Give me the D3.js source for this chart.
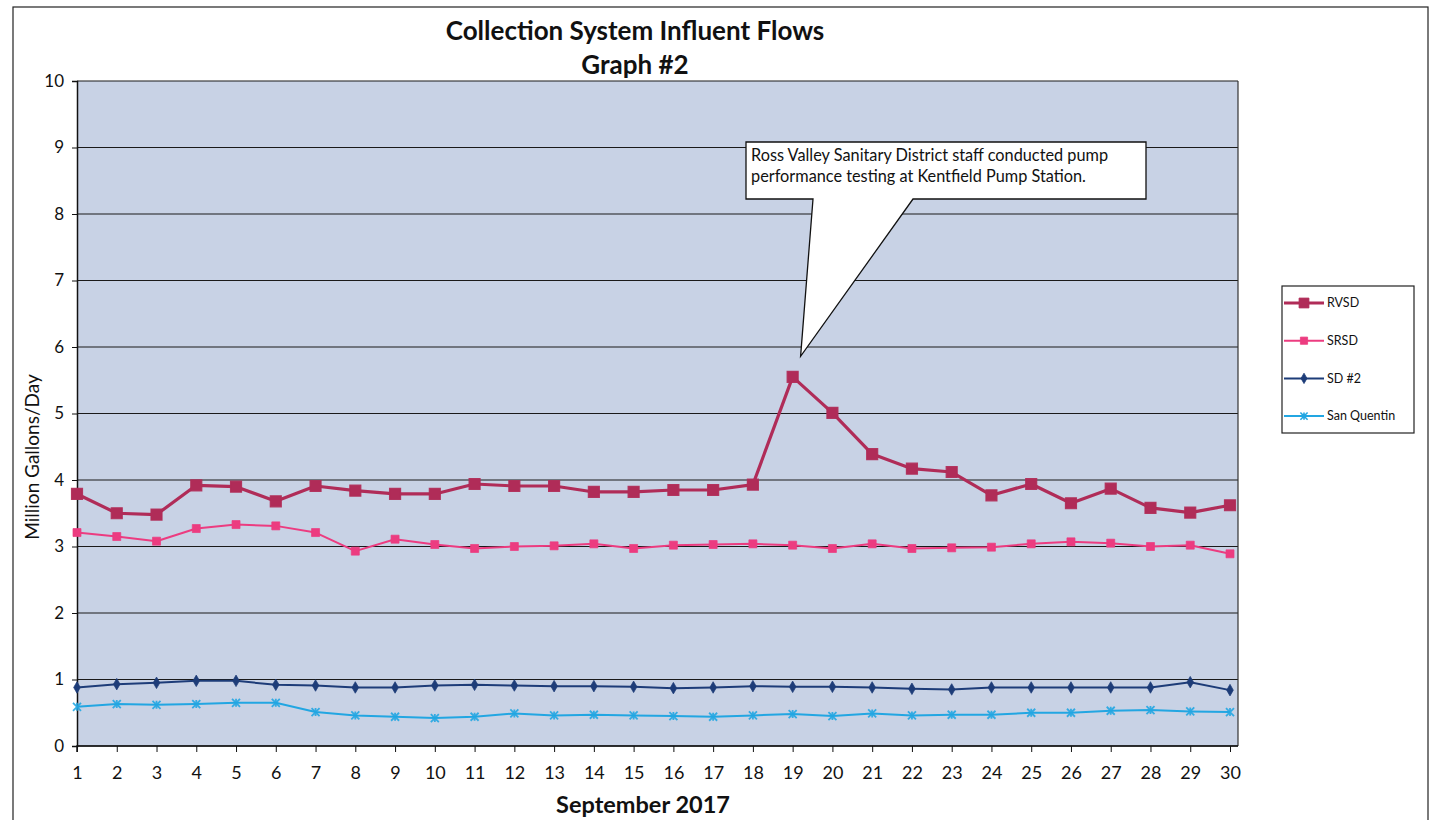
<!DOCTYPE html>
<html>
<head>
<meta charset="utf-8">
<script src="https://cdn.jsdelivr.net/npm/d3@7"></script>
<style>
  body { margin: 0; background: #fff; }
  svg text { font-family: Lato, "Open Sans", sans-serif; fill: #111; }
</style>
</head>
<body>
<div id="d3-container"></div>
<script>
/**
 * DATA
 * */
const days = [1, 2, 3, 4, 5, 6, 7, 8, 9, 10, 11, 12, 13, 14, 15,
  16, 17, 18, 19, 20, 21, 22, 23, 24, 25, 26, 27, 28, 29, 30];

const rvsd = [3.79, 3.50, 3.48, 3.92, 3.90, 3.68, 3.91, 3.84, 3.79, 3.79,
  3.94, 3.91, 3.91, 3.82, 3.82, 3.85, 3.85, 3.93, 5.55, 5.01,
  4.39, 4.17, 4.12, 3.77, 3.94, 3.65, 3.87, 3.58, 3.51, 3.62];

const srsd = [3.21, 3.15, 3.08, 3.27, 3.33, 3.31, 3.21, 2.93, 3.11, 3.03,
  2.97, 3.00, 3.01, 3.04, 2.97, 3.02, 3.03, 3.04, 3.02, 2.97,
  3.04, 2.97, 2.98, 2.99, 3.04, 3.07, 3.05, 3.00, 3.02, 2.89];

const sd2 = [0.88, 0.93, 0.95, 0.98, 0.98, 0.92, 0.91, 0.88, 0.88, 0.91,
  0.92, 0.91, 0.90, 0.90, 0.89, 0.87, 0.88, 0.90, 0.89, 0.89,
  0.88, 0.86, 0.85, 0.88, 0.88, 0.88, 0.88, 0.88, 0.96, 0.84];

const sanQuentin = [0.59, 0.63, 0.62, 0.63, 0.65, 0.65, 0.51, 0.46, 0.44, 0.42,
  0.44, 0.49, 0.46, 0.47, 0.46, 0.45, 0.44, 0.46, 0.48, 0.45,
  0.49, 0.46, 0.47, 0.47, 0.50, 0.50, 0.53, 0.54, 0.52, 0.51];

const seriesNames = ["RVSD", "SRSD", "SD #2", "San Quentin"];
const yTicks = [0, 1, 2, 3, 4, 5, 6, 7, 8, 9, 10];
const titleLines = ["Collection System Influent Flows", "Graph #2"];
const xTitle = "September 2017";
const yTitle = "Million Gallons/Day";
const calloutLines = ["Ross Valley Sanitary District staff conducted pump",
  "performance testing at Kentfield Pump Station."];
// callout points at the RVSD spike (day, value)
const calloutTarget = [19.2, 5.86];

/**
 * CONSTANTS
 * */
const width = 1437,
  height = 820,
  plot = { left: 77, right: 1238, top: 81, bottom: 746 };

const styles = [
  { color: "#b02c58", width: 3.2, marker: "square", size: 11 },
  { color: "#ec3c80", width: 2, marker: "square", size: 8 },
  { color: "#1d3c78", width: 2, marker: "diamond", size: 8 },
  { color: "#22a6e2", width: 2, marker: "star", size: 8 }
];

const allSeries = [rvsd, srsd, sd2, sanQuentin];

const svg = d3.select("#d3-container")
  .append("svg")
  .attr("width", width)
  .attr("height", height);

// outer page frame
svg.append("rect")
  .attr("x", 13).attr("y", 7)
  .attr("width", 1415).attr("height", 840)
  .attr("fill", "none")
  .attr("stroke", "#222")
  .attr("stroke-width", 1.2);

// SCALES
const xScale = d3.scaleLinear()
  .domain([days[0], days[days.length - 1]])
  .range([plot.left, 1230]);

const yScale = d3.scaleLinear()
  .domain([0, 10])
  .range([plot.bottom, plot.top]);

// plot background
svg.append("rect")
  .attr("x", plot.left).attr("y", plot.top)
  .attr("width", plot.right - plot.left)
  .attr("height", plot.bottom - plot.top)
  .attr("fill", "#c8d2e5");

// gridlines
svg.append("g")
  .selectAll("line")
  .data(yTicks)
  .join("line")
  .attr("x1", plot.left).attr("x2", plot.right)
  .attr("y1", d => yScale(d)).attr("y2", d => yScale(d))
  .attr("stroke", "#1a1a1a")
  .attr("stroke-width", 1.2);

svg.append("line")
  .attr("x1", plot.right).attr("x2", plot.right)
  .attr("y1", plot.top).attr("y2", plot.bottom)
  .attr("stroke", "#333").attr("stroke-width", 1.2);

// AXES
const yAxis = d3.axisLeft(yScale).tickValues(yTicks).tickSize(5).tickPadding(8);
const gy = svg.append("g")
  .attr("transform", `translate(${plot.left},0)`)
  .call(yAxis);
gy.select(".domain").attr("stroke", "#111").attr("stroke-width", 1.5);
gy.selectAll(".tick line").attr("stroke", "#111");
gy.selectAll(".tick text").attr("font-size", 17).attr("font-family", "Lato").attr("fill", "#111");

const xAxis = d3.axisBottom(xScale).tickValues(days).tickFormat(d3.format("d"))
  .tickSize(6).tickPadding(14);
const gx = svg.append("g")
  .attr("transform", `translate(0,${plot.bottom})`)
  .call(xAxis);
gx.select(".domain").attr("stroke", "#111").attr("stroke-width", 1.5)
  .attr("d", `M${plot.left},6V0H${plot.right}`);
gx.selectAll(".tick line").attr("stroke", "#111");
gx.selectAll(".tick text").attr("font-size", 18).attr("font-family", "Lato").attr("fill", "#111");

// MARKERS
function markerPath(type, s) {
  if (type === "square") return d3.symbol(d3.symbolSquare, s * s)();
  if (type === "diamond") return d3.symbol(d3.symbolDiamond, s * s * 0.6)();
  const h = s / 2;
  return `M${-h},${-h}L${h},${h}M${-h},${h}L${h},${-h}M0,${-h}V${h}`;
}

const line = d3.line()
  .x((d, i) => xScale(days[i]))
  .y(d => yScale(d));

// draw back to front so RVSD sits on top
[3, 2, 1, 0].forEach(k => {
  const st = styles[k];
  const g = svg.append("g").attr("class", "series");
  g.append("path")
    .datum(allSeries[k])
    .attr("d", line)
    .attr("fill", "none")
    .attr("stroke", st.color)
    .attr("stroke-width", st.width)
    .attr("stroke-linejoin", "round");
  g.selectAll(".mk")
    .data(allSeries[k])
    .join("path")
    .attr("class", "mk")
    .attr("transform", (d, i) => `translate(${xScale(days[i])},${yScale(d)})`)
    .attr("d", markerPath(st.marker, st.size))
    .attr("fill", st.marker === "star" ? "none" : st.color)
    .attr("stroke", st.color)
    .attr("stroke-width", st.marker === "star" ? 1.8 : (k === 0 ? 1.2 : 0.8))
    .attr("stroke-opacity", 0.9);
});

// CALLOUT
const box = { x: 746, y: 142, w: 400, h: 57 };
const tipX = xScale(calloutTarget[0]), tipY = yScale(calloutTarget[1]);
const baseL = 813, baseR = 913;
svg.append("path")
  .attr("d", `M${box.x},${box.y}H${box.x + box.w}V${box.y + box.h}H${baseR}` +
    `L${tipX},${tipY}L${baseL},${box.y + box.h}H${box.x}Z`)
  .attr("fill", "#fff")
  .attr("stroke", "#111")
  .attr("stroke-width", 1.3);

svg.append("g")
  .selectAll("text")
  .data(calloutLines)
  .join("text")
  .attr("x", box.x + 5)
  .attr("y", (d, i) => box.y + 19 + i * 21)
  .attr("font-size", 16.3)
  .text(d => d);

// TITLES
svg.append("g")
  .selectAll("text")
  .data(titleLines)
  .join("text")
  .attr("x", 635)
  .attr("y", (d, i) => 40 + i * 34)
  .attr("text-anchor", "middle")
  .attr("font-size", 26)
  .attr("font-weight", "bold")
  .text(d => d);

svg.append("text")
  .attr("x", 643).attr("y", 813)
  .attr("text-anchor", "middle")
  .attr("font-size", 23.5)
  .attr("font-weight", "bold")
  .text(xTitle);

svg.append("text")
  .attr("transform", "translate(39,457) rotate(-90)")
  .attr("text-anchor", "middle")
  .attr("font-size", 19)
  .text(yTitle);

// LEGEND
const legend = svg.append("g");
legend.append("rect")
  .attr("x", 1282).attr("y", 286)
  .attr("width", 132).attr("height", 147)
  .attr("fill", "#fff")
  .attr("stroke", "#222")
  .attr("stroke-width", 1.2);

const li = legend.selectAll(".li")
  .data(seriesNames)
  .join("g")
  .attr("class", "li")
  .attr("transform", (d, i) => `translate(1284,${303 + i * 37.7})`);

li.append("line")
  .attr("x1", 0).attr("x2", 40)
  .attr("stroke", (d, i) => styles[i].color)
  .attr("stroke-width", (d, i) => styles[i].width);
li.append("path")
  .attr("transform", "translate(20,0)")
  .attr("d", (d, i) => markerPath(styles[i].marker, styles[i].size * 0.9))
  .attr("fill", (d, i) => styles[i].marker === "star" ? "none" : styles[i].color)
  .attr("stroke", (d, i) => styles[i].color)
  .attr("stroke-width", (d, i) => styles[i].marker === "star" ? 1.6 : 0.8);
li.append("text")
  .attr("x", 43).attr("dy", "0.35em")
  .attr("font-size", 12.5)
  .text(d => d);
</script>
</body>
</html>
